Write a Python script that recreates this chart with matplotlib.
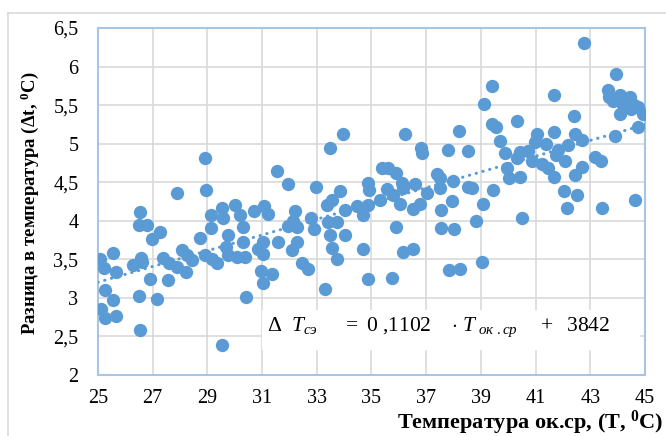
import matplotlib
matplotlib.use('Agg')
import matplotlib.pyplot as plt
import numpy as np
from matplotlib.ticker import FuncFormatter, MultipleLocator
from matplotlib.patches import Rectangle
from matplotlib.lines import Line2D

plt.rcParams['font.family'] = ['Liberation Serif', 'DejaVu Serif']
plt.rcParams['mathtext.fontset'] = 'custom'
plt.rcParams['mathtext.rm'] = 'Liberation Serif'
plt.rcParams['mathtext.it'] = 'Liberation Serif:italic'
plt.rcParams['mathtext.bf'] = 'Liberation Serif:bold'

# temperature of environment (x) vs temperature difference (y)
temp_x = [
    28.91, 27.88, 28.95, 26.54, 26.50, 26.80, 27.27, 26.96, 29.13, 29.52, 29.57,
    29.12, 28.75, 25.07, 25.54, 25.22, 25.65, 25.26, 25.54, 25.13, 25.26, 25.66,
    26.54, 26.51, 27.17, 26.90, 27.55, 26.27, 26.56, 26.60, 27.39, 27.60, 28.06,
    28.24, 28.43, 27.90, 28.22, 28.91, 29.16, 29.34, 29.52, 29.75, 29.70,
    33.97, 33.48, 31.53, 31.96, 32.96, 33.85, 33.54, 33.36, 34.03, 34.46, 30.01,
    30.19, 30.31, 30.72, 31.09, 31.20, 30.31, 29.77, 30.07, 30.38, 31.05, 31.05,
    30.86, 31.59, 32.20, 32.14, 31.96, 32.26, 32.79, 32.91, 32.26, 32.08, 33.42,
    33.73, 33.48, 34.05, 33.54, 33.73, 32.45, 32.69, 30.96, 31.35, 31.05, 30.40,
    33.30,
    39.39, 39.11, 39.39, 39.57, 39.70, 36.22, 38.21, 36.81, 36.86, 37.81, 38.54,
    35.37, 35.61, 35.90, 34.88, 34.92, 35.55, 36.10, 36.16, 36.59, 37.38, 37.50,
    37.99, 38.54, 38.66, 39.43, 37.50, 37.02, 35.31, 35.80, 36.04, 34.88, 34.70,
    36.53, 36.77, 37.56, 37.93, 39.09, 38.82, 35.90, 37.56, 38.02, 34.70, 36.16,
    36.51, 37.84, 38.24, 39.03, 34.88, 35.74,
    42.78, 43.93, 43.66, 41.68, 44.08, 44.45, 43.84, 44.76, 44.94, 44.08, 44.73,
    43.90, 42.40, 40.31, 41.04, 41.68, 42.44, 42.71, 39.88, 40.43, 40.73, 40.98,
    41.37, 41.83, 42.20, 41.75, 42.07, 43.17, 43.39, 40.31, 40.86, 41.22, 41.46,
    41.68, 39.94, 40.01, 40.43, 42.44, 42.68, 42.05, 42.50, 42.14, 43.42, 44.63,
    40.52, 44.20, 44.50, 44.60, 43.70,
]
delta_t = [
    4.82, 4.36, 4.40, 4.11, 3.95, 3.94, 3.86, 3.76, 4.08, 4.16, 4.04,
    3.90, 3.77, 3.51, 3.58, 3.39, 3.34, 3.10, 2.97, 2.86, 2.74, 2.77,
    2.58, 3.02, 2.98, 3.25, 3.23, 3.43, 3.52, 3.47, 3.52, 3.45, 3.62,
    3.56, 3.49, 3.40, 3.33, 3.56, 3.51, 3.45, 2.39, 3.82, 3.66,
    5.13, 4.95, 4.65, 4.48, 4.44, 4.39, 4.27, 4.20, 4.14, 4.19, 4.20,
    4.08, 3.92, 4.12, 4.19, 4.09, 3.72, 3.56, 3.53, 3.53, 3.72, 3.57,
    3.64, 3.72, 4.12, 4.00, 3.93, 3.92, 4.03, 3.89, 3.72, 3.62, 3.99,
    3.99, 3.82, 3.82, 3.65, 3.50, 3.45, 3.38, 3.35, 3.31, 3.19, 3.01,
    3.11,
    5.75, 5.52, 5.26, 5.22, 5.03, 5.13, 5.16, 4.94, 4.88, 4.92, 4.91,
    4.68, 4.69, 4.62, 4.49, 4.40, 4.41, 4.49, 4.42, 4.48, 4.61, 4.56,
    4.52, 4.44, 4.42, 4.40, 4.42, 4.36, 4.27, 4.33, 4.22, 4.20, 4.08,
    4.15, 4.22, 4.14, 4.26, 4.22, 4.00, 3.92, 3.91, 3.89, 3.63, 3.60,
    3.64, 3.36, 3.37, 3.46, 3.25, 3.26,
    6.31, 5.90, 5.69, 5.63, 5.63, 5.61, 5.55, 5.48, 5.39, 5.39, 5.22,
    5.10, 5.36, 5.29, 5.13, 5.15, 5.12, 5.05, 4.88, 4.89, 4.91, 5.02,
    5.00, 4.92, 4.98, 4.85, 4.77, 4.83, 4.77, 4.81, 4.77, 4.74, 4.68,
    4.57, 4.69, 4.55, 4.57, 4.59, 4.70, 4.38, 4.33, 4.17, 4.17, 4.27,
    4.04, 5.50, 5.45, 5.50, 5.60,
]

x_ticks = [25, 27, 29, 31, 33, 35, 37, 39, 41, 43, 45]
y_label = 'Разница в температура (Δt, $^{\\mathbf{0}}$C)'
x_label = 'Температура ок.ср, (T, $^{\\mathbf{0}}$C)'
equation = (r'$\Delta\ \ T_{\mathit{сэ}}\ \ \ \ \ =\ 0\ {,}1102\ \ \ \ '
            r'{\cdot}\ T_{\ \mathit{ок\ .ср}}\ \ \ \ +\ \ 3842$')

blue = '#5B9BD5'
grid_c = '#D9D9D9'
frame_c = '#A9C5E4'

fig = plt.figure(figsize=(6.66, 4.36), dpi=100)
ax = fig.add_axes([0.147, 0.14, 0.8215, 0.7958])

ax.scatter(temp_x, delta_t, s=92, color=blue, linewidths=0, zorder=3)

# linear trend (Excel style dotted)
k, b = np.polyfit(temp_x, delta_t, 1)
tx = np.array([25, 45])
ax.plot(tx, k * tx + b, color=blue, lw=2.2, linestyle=(0, (0.1, 2.2)),
        dash_capstyle='round', zorder=4)

ax.set_xlim(25, 45)
ax.set_ylim(2, 6.5)
ax.set_xticks(x_ticks)
ax.yaxis.set_major_locator(MultipleLocator(0.5))
ax.yaxis.set_major_formatter(FuncFormatter(lambda v, p: ('%g' % v).replace('.', ',')))
ax.tick_params(length=0, labelsize=14.5, colors='black')
ax.tick_params(axis='y', pad=14)
ax.tick_params(axis='x', pad=10)
ax.grid(True, color=grid_c, lw=1.2, zorder=0)
ax.set_axisbelow(True)
for sp in ax.spines.values():
    sp.set_color(frame_c)
    sp.set_linewidth(1.5)

# white box behind the equation
ax.add_patch(Rectangle((0.30, 0.072), 0.69, 0.115, transform=ax.transAxes,
                       facecolor='white', edgecolor='none', zorder=1.5))
ax.text(0.309, 0.138, equation, transform=ax.transAxes, fontsize=15.5,
        ha='left', va='center', zorder=5)

fig.text(0.045, 0.534, y_label, rotation=90, ha='center', va='center',
         fontsize=13.5, fontweight='bold')
fig.text(0.996, 0.03, x_label, ha='right', va='center',
         fontsize=16, fontweight='bold')

# outer chart border (left and top visible)
fig.add_artist(Line2D([0.012, 0.012], [0.0, 0.970], color=grid_c, lw=1.2))
fig.add_artist(Line2D([0.012, 1.0], [0.970, 0.970], color=grid_c, lw=1.2))

fig.savefig('out.png', dpi=100)
